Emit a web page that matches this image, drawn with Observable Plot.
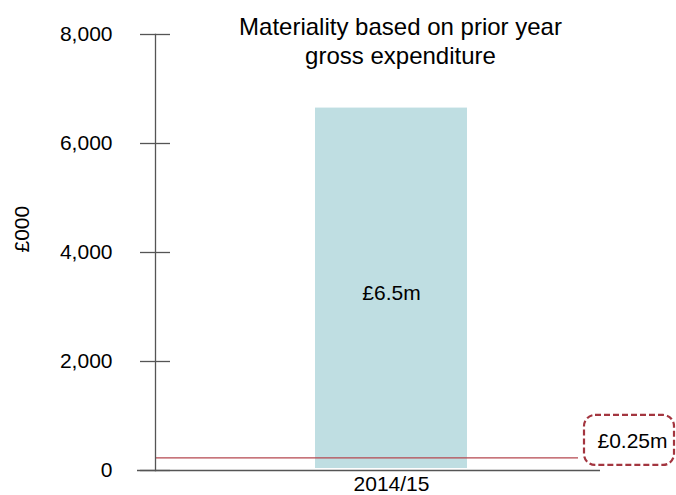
<!DOCTYPE html>
<html>
<head>
<meta charset="utf-8">
<script src="https://cdn.jsdelivr.net/npm/d3@7"></script>
<script src="https://cdn.jsdelivr.net/npm/@observablehq/plot@0.6"></script>
<style>
  html, body { margin: 0; padding: 0; background: #fff; }
  #chart { width: 676px; height: 495px; }
</style>
</head>
<body>
<div id="chart"></div>
<script>
// Data
const years = ["2014/15"];
const expenditure = [6650];           // £000
const barLabels = ["£6.5m"];
const threshold = [230];              // £000 materiality line
const thresholdLabels = ["£0.25m"];
const yTicks = [0, 2000, 4000, 6000, 8000];
const titleText = "Materiality based on prior year\ngross expenditure";
const yLabel = "£000";

const data = years.map((y, i) => ({year: y, value: expenditure[i], label: barLabels[i]}));
const thr = threshold.map((v, i) => ({value: v, label: thresholdLabels[i]}));

const font = "Liberation Sans, Arial, sans-serif";

const chart = Plot.plot({
  width: 676,
  height: 495,
  marginTop: 34,
  marginBottom: 25,
  marginLeft: 155,
  marginRight: 98,
  style: {fontFamily: font, fontSize: "21px", color: "#000", background: "#fff"},
  x: {type: "band", domain: years, paddingInner: 0, paddingOuter: 0.891, align: 0.59},
  y: {domain: [0, 8000]},
  marks: [
    Plot.barY(data, {x: "year", y: "value", fill: "#bfdee2", insetBottom: 2}),
    Plot.ruleY(thr, {y: "value", stroke: "#b5474f", strokeWidth: 1.3}),
    Plot.ruleY([0], {stroke: "#555", strokeWidth: 1.3, insetLeft: -18, insetRight: -22}),
    Plot.frame({anchor: "left", stroke: "#555", strokeWidth: 1.3}),
    Plot.axisY({ticks: yTicks, tickFormat: d3.format(","), tickSize: 30, dx: 15, tickPadding: 28, fontSize: 21, label: null, stroke: "#555", strokeWidth: 1.3}),
    Plot.axisX({tickSize: 0, tickPadding: 6, fontSize: 21, label: null}),
    Plot.text([yLabel], {frameAnchor: "left", dx: -133, rotate: -90, fontSize: 21, text: d => d}),
    Plot.text(data, {x: "year", y: d => d.value / 2, text: "label", fontSize: 21, dy: 4}),
    Plot.text([titleText], {frameAnchor: "top", dx: 33.5, dy: -20, lineAnchor: "top", lineHeight: 1.2, fontSize: 24, text: d => d}),
    Plot.rect(thr, {y1: "value", y2: "value", insetLeft: 429, insetRight: -96, insetTop: -42.5, insetBottom: -7.5, rx: 11, fill: "none", stroke: "#a3353f", strokeWidth: 2.2, strokeDasharray: "6,3"}),
    Plot.text(thr, {y: "value", frameAnchor: "right", textAnchor: "middle", dx: 54, dy: -16.5, text: "label", fontSize: 21})
  ]
});
document.getElementById("chart").appendChild(chart);
</script>
</body>
</html>
